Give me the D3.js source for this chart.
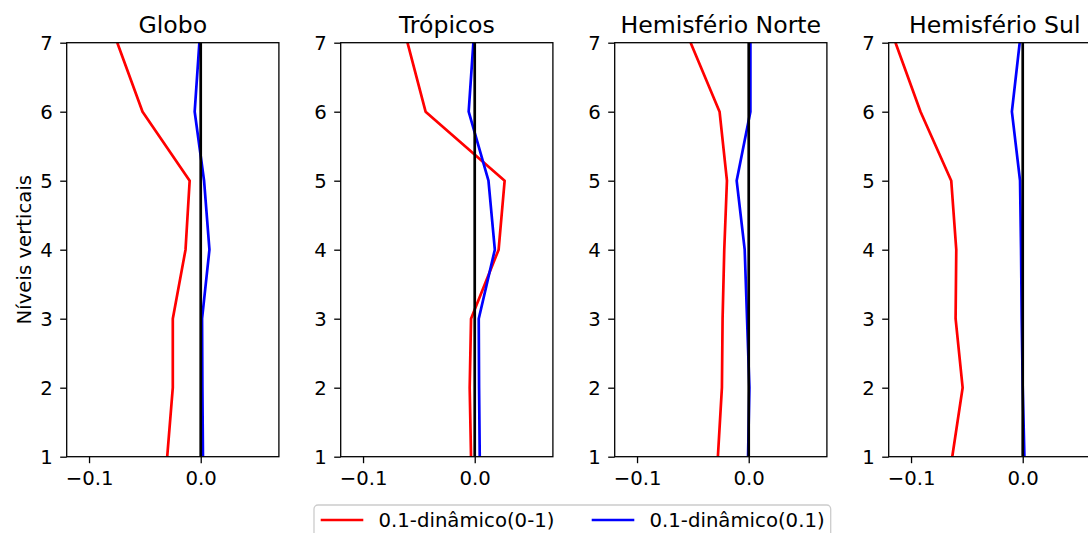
<!DOCTYPE html>
<html><head><meta charset="utf-8">
<script src="https://cdn.jsdelivr.net/npm/d3@7"></script>
<style>body{margin:0;background:#fff;overflow:hidden}svg{display:block;font-family:"DejaVu Sans",sans-serif}</style>
</head><body><svg id="c" width="1088" height="533"></svg>
<script>
const titles = ["Globo", "Trópicos", "Hemisfério Norte", "Hemisfério Sul"];
const levels = [1, 2, 3, 4, 5, 6, 7];
const redGlobo = [-0.030, -0.025, -0.025, -0.0136, -0.0099, -0.0521, -0.0747];
const blueGlobo = [0.002, 0.0015, 0.0012, 0.0078, 0.003, -0.0054, -0.0012];
const redTropicos = [-0.0033, -0.0045, -0.0033, 0.0214, 0.0268, -0.044, -0.0602];
const blueTropicos = [0.0045, 0.0039, 0.0036, 0.018, 0.0123, -0.0054, -0.0012];
const redHN = [-0.0276, -0.024, -0.0234, -0.0219, -0.0195, -0.0261, -0.052];
const blueHN = [-0.0006, 0.0006, -0.0015, -0.0036, -0.0108, 0.0015, 0.0015];
const redHS = [-0.0631, -0.0538, -0.0601, -0.0595, -0.064, -0.0915, -0.1139];
const blueHS = [0.0015, 0, -0.0009, -0.0015, -0.0024, -0.0097, -0.0027];
const xTicks = [-0.1, 0.0];
const yTicks = [1, 2, 3, 4, 5, 6, 7];
const seriesNames = ["0.1-dinâmico(0-1)", "0.1-dinâmico(0.1)"];
const seriesColors = ["#ff0000", "#0000ff"];
const yLabel = "Níveis verticais";

const panels = [
  [redGlobo, blueGlobo], [redTropicos, blueTropicos], [redHN, blueHN], [redHS, blueHS]
];

const FS = 19.7, TFS = 23.6;
const svg = d3.select("#c");
const topY = 42.7, bottomY = 456.7, pw = 212.2, lefts = [66.7, 340.7, 614.7, 888.7];
const fmt = v => (v < 0 ? "\u2212" : "") + Math.abs(v).toFixed(1);
const y = d3.scaleLinear().domain([1, 7]).range([bottomY, topY]);

panels.forEach((ser, i) => {
  const L = lefts[i];
  const x = d3.scaleLinear().domain([-0.12, 0.07]).range([L, L + pw]);
  const g = svg.append("g");
  const cid = "clip" + i;
  svg.append("clipPath").attr("id", cid).append("rect")
    .attr("x", L).attr("y", topY).attr("width", pw).attr("height", bottomY - topY);
  const line = d3.line().x(d => x(d[0])).y(d => y(d[1]));
  const pg = g.append("g").attr("clip-path", `url(#${cid})`);
  ser.forEach((vals, k) => {
    pg.append("path").datum(vals.map((v, j) => [v, levels[j]]))
      .attr("d", line).attr("fill", "none").attr("stroke", seriesColors[k])
      .attr("stroke-width", 2.7).attr("stroke-linejoin", "round");
  });
  pg.append("line").attr("x1", x(0)).attr("x2", x(0)).attr("y1", topY).attr("y2", bottomY)
    .attr("stroke", "#000").attr("stroke-width", 2.7);

  const xa = g.append("g").attr("transform", `translate(0,${bottomY})`)
    .call(d3.axisBottom(x).tickValues(xTicks).tickFormat(fmt).tickSize(6.5).tickPadding(7));
  const ya = g.append("g").attr("transform", `translate(${L},0)`)
    .call(d3.axisLeft(y).tickValues(yTicks).tickFormat(d3.format("d")).tickSize(6.5).tickPadding(7.5));
  [xa, ya].forEach(a => {
    a.select(".domain").remove();
    a.selectAll("line").attr("stroke", "#000").attr("stroke-width", 1.3);
    a.selectAll("text").attr("font-size", FS).attr("fill", "#000")
      .attr("font-family", "DejaVu Sans");
  });
  xa.selectAll("text").attr("dy", "0.76em");
  ya.selectAll("text").attr("dy", "0.36em");

  g.append("rect").attr("x", L).attr("y", topY).attr("width", pw).attr("height", bottomY - topY)
    .attr("fill", "none").attr("stroke", "#000").attr("stroke-width", 1.3);

  g.append("text").attr("x", L + pw / 2).attr("y", 33).attr("text-anchor", "middle")
    .attr("font-size", TFS).attr("fill", "#000").text(titles[i]);
});

svg.append("text").attr("transform", `translate(31,${(topY + bottomY) / 2}) rotate(-90)`)
  .attr("text-anchor", "middle").attr("font-size", FS).attr("fill", "#000").text(yLabel);

const lg = svg.append("g");
lg.append("rect").attr("x", 314).attr("y", 505).attr("width", 516.7).attr("height", 50)
  .attr("rx", 4).attr("fill", "#fff").attr("fill-opacity", 0.8).attr("stroke", "#cccccc").attr("stroke-width", 1.3);
const legX = [320.7, 591.7];
seriesNames.forEach((n, k) => {
  lg.append("line").attr("x1", legX[k]).attr("x2", legX[k] + 42.6).attr("y1", 520).attr("y2", 520)
    .attr("stroke", seriesColors[k]).attr("stroke-width", 2.7);
  lg.append("text").attr("x", legX[k] + 57.8).attr("y", 527).attr("font-size", FS)
    .attr("fill", "#000").text(n);
});
</script></body></html>
